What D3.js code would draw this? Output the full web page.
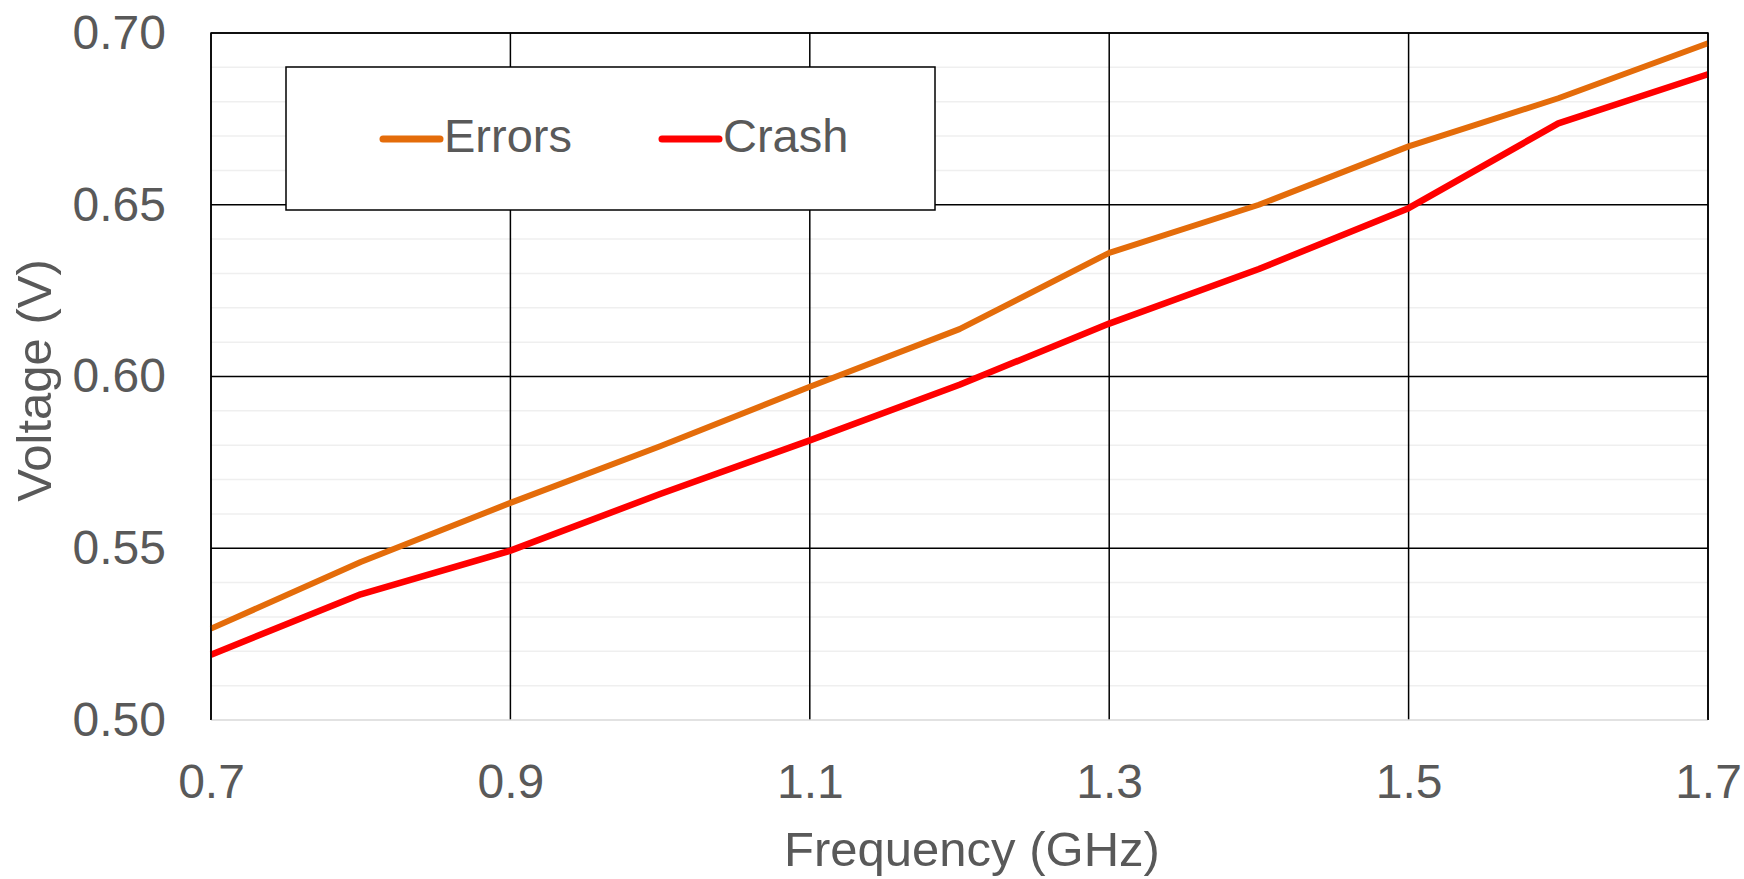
<!DOCTYPE html>
<html>
<head>
<meta charset="utf-8">
<script src="https://cdn.jsdelivr.net/npm/d3@7"></script>
<style>
  body { margin: 0; background: #fff; }
  text { font-family: "Liberation Sans", Arial, sans-serif; fill: #595959; }
</style>
</head>
<body>
<script>
const width = 1744;
const height = 879;

// data
const freq = [0.7, 0.8, 0.9, 1.0, 1.1, 1.2, 1.3, 1.4, 1.5, 1.6, 1.7];
const errors = [0.5266, 0.546, 0.5632, 0.5797, 0.597, 0.6138, 0.636, 0.650, 0.667, 0.681, 0.697];
const crash = [0.519, 0.5366, 0.5493, 0.5658, 0.5814, 0.5976, 0.6154, 0.6313, 0.649, 0.6737, 0.688];
const xTicks = [0.7, 0.9, 1.1, 1.3, 1.5, 1.7];
const yTicks = [0.50, 0.55, 0.60, 0.65, 0.70];
const yMinor = d3.range(50, 71).map(d => d / 100);
const seriesNames = ["Errors", "Crash"];
const seriesColors = ["#E46C0A", "#FF0000"];

const margin = { left: 211, right: 36, top: 33, bottom: 159 };

const svg = d3.select("body")
  .append("svg")
  .attr("width", width)
  .attr("height", height);

const x = d3.scaleLinear()
  .domain([0.7, 1.7])
  .range([margin.left, width - margin.right]);

const y = d3.scaleLinear()
  .domain([0.5, 0.7])
  .range([height - margin.bottom, margin.top]);

// minor gridlines
svg.append("g")
  .selectAll("line")
  .data(yMinor.filter(d => Math.round(d * 100) % 5 !== 0))
  .enter()
  .append("line")
  .attr("x1", x(0.7))
  .attr("x2", x(1.7))
  .attr("y1", d => y(d))
  .attr("y2", d => y(d))
  .attr("stroke", "#efefef")
  .attr("stroke-width", 1.5);

// major horizontal gridlines
svg.append("g")
  .selectAll("line")
  .data(yTicks.filter(d => d > 0.5))
  .enter()
  .append("line")
  .attr("x1", x(0.7))
  .attr("x2", x(1.7))
  .attr("y1", d => y(d))
  .attr("y2", d => y(d))
  .attr("stroke", "#000")
  .attr("stroke-width", 1.5);

// vertical gridlines
svg.append("g")
  .selectAll("line")
  .data(xTicks)
  .enter()
  .append("line")
  .attr("x1", d => x(d))
  .attr("x2", d => x(d))
  .attr("y1", y(0.7))
  .attr("y2", y(0.5))
  .attr("stroke", "#000")
  .attr("stroke-width", 1.5);

// bottom axis line
svg.append("line")
  .attr("x1", x(0.7))
  .attr("x2", x(1.7))
  .attr("y1", y(0.5))
  .attr("y2", y(0.5))
  .attr("stroke", "#d9d9d9")
  .attr("stroke-width", 1.5);

// y axis
const yAxis = svg.append("g")
  .attr("transform", `translate(${margin.left - 45},0)`)
  .call(d3.axisLeft(y).tickValues(yTicks).tickFormat(d3.format(".2f")).tickSize(0).tickPadding(0));
yAxis.select(".domain").remove();
yAxis.selectAll("text")
  .attr("font-size", 48)
  .attr("dy", "0.32em")
  .attr("fill", "#595959");

// x axis
const xAxis = svg.append("g")
  .attr("transform", `translate(0,${y(0.5) + 44})`)
  .call(d3.axisBottom(x).tickValues(xTicks).tickFormat(d3.format(".1f")).tickSize(0).tickPadding(0));
xAxis.select(".domain").remove();
xAxis.selectAll("text")
  .attr("font-size", 48)
  .attr("dy", "0.71em")
  .attr("fill", "#595959");

// axis titles
svg.append("text")
  .attr("x", 972)
  .attr("y", 866)
  .attr("text-anchor", "middle")
  .attr("font-size", 49)
  .text("Frequency (GHz)");

svg.append("text")
  .attr("transform", `translate(51,${(y(0.5) + y(0.7)) / 2 + 4}) rotate(-90)`)
  .attr("text-anchor", "middle")
  .attr("font-size", 49)
  .text("Voltage (V)");

// lines
const line = d3.line()
  .x((d, i) => x(freq[i]))
  .y(d => y(d));

svg.append("g")
  .selectAll("path")
  .data([errors, crash])
  .enter()
  .append("path")
  .attr("d", d => line(d))
  .attr("fill", "none")
  .attr("stroke", (d, i) => seriesColors[i])
  .attr("stroke-width", (d, i) => i === 0 ? 6 : 6.5)
  .attr("stroke-linejoin", "round");

// plot border (left, top, right)
svg.append("path")
  .attr("d", `M${x(0.7)},${y(0.5)}V${y(0.7)}H${x(1.7)}V${y(0.5)}`)
  .attr("fill", "none")
  .attr("stroke", "#000")
  .attr("stroke-width", 1.5);

// legend
const legend = svg.append("g");
legend.append("rect")
  .attr("x", 286)
  .attr("y", 67)
  .attr("width", 649)
  .attr("height", 143)
  .attr("fill", "#fff")
  .attr("stroke", "#000")
  .attr("stroke-width", 1.5);

const legendX = [383, 662];
const items = legend.selectAll(".item")
  .data(seriesNames)
  .enter()
  .append("g")
  .attr("class", "item")
  .attr("transform", (d, i) => `translate(${legendX[i]},139)`);

items.append("line")
  .attr("x1", 0)
  .attr("x2", 57)
  .attr("stroke", (d, i) => seriesColors[i])
  .attr("stroke-width", 7)
  .attr("stroke-linecap", "round");

items.append("text")
  .attr("x", 61)
  .attr("y", 13)
  .attr("font-size", 47)
  .text(d => d);
</script>
</body>
</html>
